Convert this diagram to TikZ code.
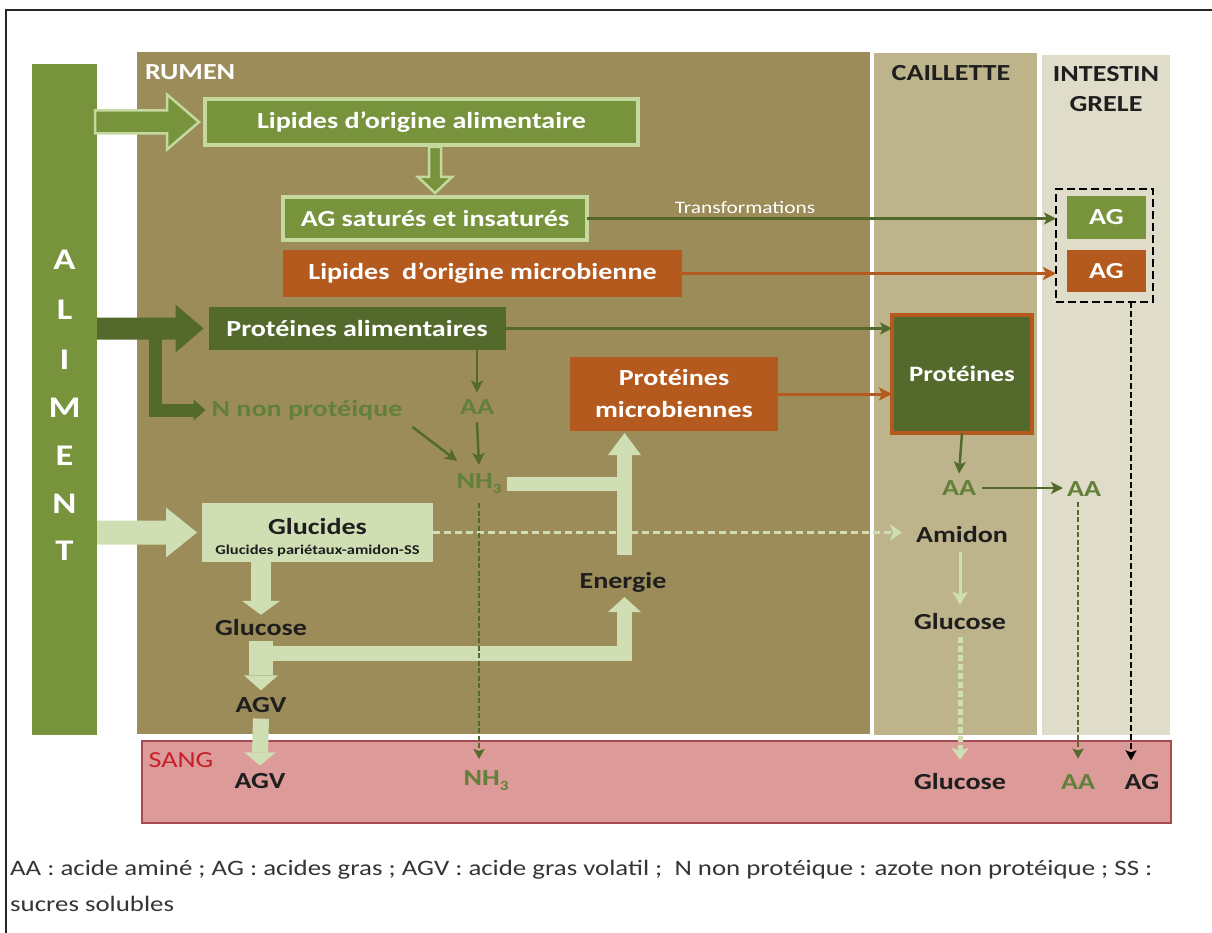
\documentclass[tikz,border=0pt]{standalone}
\usepackage{fontspec}
\setmainfont[FakeStretch=1.22]{Carlito}
\usetikzlibrary{calc,arrows.meta}

\definecolor{alimc}{HTML}{77933C}
\definecolor{rumenc}{HTML}{9C8C5A}
\definecolor{caillc}{HTML}{BEB48B}
\definecolor{intc}{HTML}{E0DCCA}
\definecolor{sangc}{HTML}{DC9A98}
\definecolor{sangb}{HTML}{A34B50}
\definecolor{olive}{HTML}{77933C}
\definecolor{lightg}{HTML}{D0DFB3}
\definecolor{lightb}{HTML}{C5D89E}
\definecolor{dkg}{HTML}{546A2D}
\definecolor{rust}{HTML}{B55A1E}
\definecolor{gtext}{HTML}{62803A}
\definecolor{ink}{HTML}{1E1E1E}
\definecolor{sangred}{HTML}{C8202A}

\newcommand\ftbox{\bfseries\fontsize{23}{32}\selectfont}
\newcommand\ftcail{\bfseries\fontsize{22}{26}\selectfont}
\newcommand\ftlet{\bfseries\fontsize{30}{30}\selectfont}
\newcommand\ftsmall{\bfseries\fontsize{13.5}{15}\selectfont}
\newcommand\fttrans{\fontsize{17.5}{20}\selectfont}
\newcommand\ftleg{\fontsize{22}{24}\selectfont}
\newcommand\ftsang{\fontsize{23}{26}\selectfont}
\newcommand\subidx[1]{\raisebox{-0.22em}{\fontsize{14}{14}\selectfont #1}}

% horizontal block arrow: style, start, tip, body half-height, head half-height, head length
\newcommand\harrow[6]{%
  \path[#1] ($(#2)+(0,-#4)$) -- ($(#3)+(-#6,-#4)$) -- ($(#3)+(-#6,-#5)$) -- (#3)
    -- ($(#3)+(-#6,#5)$) -- ($(#3)+(-#6,#4)$) -- ($(#2)+(0,#4)$) -- cycle;}
% downward block arrow: style, start, tip, body half-width, head half-width, head length
\newcommand\varrow[6]{%
  \path[#1] ($(#2)+(-#4,0)$) -- ($(#3)+(-#4,-#6)$) -- ($(#3)+(-#5,-#6)$) -- (#3)
    -- ($(#3)+(#5,-#6)$) -- ($(#3)+(#4,-#6)$) -- ($(#2)+(#4,0)$) -- cycle;}
% arrow heads: colour, tip, half-width, length
\newcommand\headD[4]{\fill[#1] (#2) -- ++(-#3,-#4) -- ++(2*#3,0) -- cycle;}
\newcommand\headU[4]{\fill[#1] (#2) -- ++(-#3,#4) -- ++(2*#3,0) -- cycle;}

\begin{document}
\begin{tikzpicture}[x=1pt,y=-1pt,
  region/.style={anchor=north west, inner sep=0, outer sep=0},
  box/.style={inner sep=0, outer sep=0, text=white, font=\ftbox, align=center},
  olivebox/.style={box, fill=olive, draw=lightb, line width=3.5},
  rustbox/.style={box, fill=rust},
  darkbox/.style={box, fill=dkg},
  lbl/.style={inner sep=2, outer sep=0, font=\ftbox, text=ink},
  glbl/.style={lbl, text=gtext},
  hollow/.style={fill=olive, draw=lightb, line width=2.5, line join=miter},
  tarrow/.style={draw=dkg, line width=2.5, -{Stealth[length=12pt,width=12pt,inset=3pt]}},
  rarrow/.style={draw=rust, line width=3, -{Stealth[length=13pt,width=13pt,inset=3pt]}},
  gdash/.style={draw=dkg, line width=2.5, dash pattern=on 5pt off 2.5pt, -{Stealth[length=10pt,width=11pt,inset=2pt]}},
  kdash/.style={draw=black, line width=2.5, dash pattern=on 6pt off 3pt, -{Stealth[length=10pt,width=11pt,inset=2pt]}},
  ldash/.style={draw=lightg, line width=3.5, dash pattern=on 7pt off 4pt, -{Stealth[length=12pt,width=16pt,inset=3pt]}},
  ldashb/.style={draw=lightg, line width=5, dash pattern=on 6pt off 3pt, -{Stealth[length=12pt,width=17pt,inset=3pt]}},
  lthin/.style={draw=lightg, line width=3, -{Stealth[length=13pt,width=15pt,inset=3pt]}},
]
\useasboundingbox (0,0) rectangle (1212,933);
\fill[white] (0,0) rectangle (1212,933);
\draw[line width=1.5, black!85] (6,933) -- (6,10) -- (1212,10);

% compartments
\node[region, fill=alimc, minimum width=65, minimum height=671] (aliment) at (32,64) {};
\node[region, fill=rumenc, minimum width=733, minimum height=682] (rumen) at (137,52) {};
\node[region, fill=caillc, minimum width=163, minimum height=682] (caillette) at (874,53) {};
\node[region, fill=intc, minimum width=128, minimum height=680] (intestin) at (1042,55) {};
\node[region, fill=sangc, draw=sangb, line width=1.2, minimum width=1029, minimum height=82] (sang) at (142,741) {};

% boxes
\node[olivebox, minimum width=433, minimum height=46] (lipal) at (421.5,122) {Lipides d’origine alimentaire};
\node[olivebox, minimum width=304, minimum height=43] (agsat) at (435,218.5) {AG saturés et insaturés};
\node[rustbox, minimum width=399, minimum height=47] (lipmic) at (482.5,273.5) {Lipides~ d’origine microbienne};
\node[darkbox, minimum width=297, minimum height=43] (protal) at (357,328.5) {Protéines alimentaires};
\node[rustbox, minimum width=208, minimum height=74] (protmic) at (674,394) {Protéines\\microbiennes};
\node[box, fill=lightg, minimum width=231, minimum height=59] (glucides) at (317.5,532.5) {};
\node[darkbox, draw=rust, line width=3.5, font=\ftcail, minimum width=140, minimum height=118] (protcail) at (962,374) {Protéines};
\node[draw=black, line width=2.5, dash pattern=on 8pt off 4pt, inner sep=0, outer sep=0, minimum width=97, minimum height=113] (agbox) at (1104.5,245.5) {};
\node[box, fill=olive, minimum width=79, minimum height=43] (ag1) at (1106.5,217.5) {AG};
\node[rustbox, minimum width=79, minimum height=42] (ag2) at (1106.5,271) {AG};

% compartment titles
\node[lbl, text=white, anchor=west] (rumenl) at (143,72) {RUMEN};
\node[lbl] (caill) at (951,73) {CAILLETTE};
\node[lbl, align=center, font=\bfseries\fontsize{23}{30}\selectfont] (intl) at (1106,89) {INTESTIN\\GRELE};
\node[lbl, text=sangred, font=\ftsang] (sangl) at (181,760) {SANG};
\foreach \ch/\yy [count=\i] in {A/260,L/310,I/360,M/408,E/456,N/504,T/551}
  \node[lbl, font=\ftlet, text=white] (alim\i) at (64.5,\yy) {\ch};

% labels
\node[lbl, text=white, font=\fttrans] (trans) at (745,208) {Transformations};
\node[glbl] (aar) at (477,407) {AA};
\node[glbl] (nh3) at (479,484) {NH\subidx{3}};
\node[glbl] (nnp) at (307,410) {N non protéique};
\node[lbl] (glt) at (317.5,527) {Glucides};
\node[lbl, font=\ftsmall] (gls) at (317.5,551) {Glucides pariétaux-amidon-SS};
\node[lbl] (glur) at (261,628) {Glucose};
\node[lbl] (agvr) at (261,705) {AGV};
\node[lbl] (energie) at (623,582) {Energie};
\node[glbl] (aac) at (959,488) {AA};
\node[glbl] (aai) at (1084,489) {AA};
\node[lbl] (amidon) at (962,535) {Amidon};
\node[lbl] (gluc) at (960,622) {Glucose};
\node[lbl] (agvs) at (260,781) {AGV};
\node[glbl] (nh3s) at (486,781) {NH\subidx{3}};
\node[lbl] (glus) at (960,782) {Glucose};
\node[glbl] (aas) at (1078,782) {AA};
\node[lbl] (ags) at (1142,782) {AG};

% legend
\node[anchor=west, inner sep=0, font=\ftleg, text=ink!90] (leg1) at (10,870)
  {AA : acide aminé ; AG : acides gras ; AGV : acide gras volatil ;~ N non protéique : azote non protéique ; SS :};
\node[anchor=west, inner sep=0, font=\ftleg, text=ink!90] (leg2) at (10,904) {sucres solubles};

% entry arrows from the feed column
\coordinate (lipS) at ($(aliment.east |- lipal.west)+(-2,0)$);
\coordinate (lipT) at ($(lipal.west)+(-6,0)$);
\harrow{hollow}{lipS}{lipT}{11.5}{27.5}{32}
\coordinate (palS) at (aliment.east |- protal.west);
\coordinate (palT) at ($(protal.west)+(-5,0)$);
\draw[dkg, line width=13, line join=miter] ($(palS)+(58,0)$) |- ($(nnp.west)+(-14,0)$);
\fill[dkg] ($(nnp.west)+(-4,0)$) -- ++(-12,-10.5) -- ++(0,21) -- cycle;
\harrow{fill=dkg}{palS}{palT}{11}{24}{28}
\coordinate (gluS) at (aliment.east |- glucides.west);
\coordinate (gluT) at ($(glucides.west)+(-5,0)$);
\harrow{fill=lightg}{gluS}{gluT}{12}{25}{31}

% lipids: hollow arrow down
\coordinate (ldS) at ($(agsat.north |- lipal.south)+(0,2)$);
\coordinate (ldT) at ($(agsat.north)+(0,-4)$);
\varrow{hollow}{ldS}{ldT}{6}{17}{16}

% carbohydrate flow in the rumen
\coordinate (g1T) at ($(glur.north)+(0,-3)$);
\draw[lightg, line width=20] (glur.north |- glucides.south) -- ($(g1T)+(0,-14)$);
\headD{lightg}{g1T}{19}{14}
\coordinate (g2T) at ($(agvr.north)+(0,-5)$);
\draw[lightg, line width=24] ($(glur.south)+(0,3)$) -- ($(g2T)+(0,-15)$);
\headD{lightg}{g2T}{17}{15}
\coordinate (enT) at ($(energie.south)+(1.5,3)$);
\draw[lightg, line width=15, line join=miter] ($(glur.south)+(0,15.5)$) -- ($(enT |- glur.south)+(0,15.5)$) -- ($(enT)+(0,15)$);
\headU{lightg}{enT}{16.5}{15}
\coordinate (g3T) at ($(agvs.north)+(0,-6)$);
\draw[lightg, line width=16] ($(agvr.south)+(0,4)$) -- ($(g3T)+(0,-13)$);
\headD{lightg}{g3T}{16}{13}

% nitrogen to microbial proteins
\coordinate (pmT) at ($(enT |- protmic.south)+(0,2)$);
\draw[lightg, line width=14] ($(nh3.east)+(4,0)$) -- ($(enT |- nh3.east)+(7.5,0)$);
\draw[lightg, line width=15] ($(energie.north)+(1.5,-15)$) -- ($(pmT)+(0,22)$);
\headU{lightg}{pmT}{16.5}{22}

% light dashed and thin connectors
\draw[ldash] (glucides.east) -- ($(glucides.east -| amidon.west)+(-12,0)$);
\draw[lthin] ($(gluc.north |- amidon.south)+(0,7)$) -- ($(gluc.north)+(0,-7)$);
\draw[ldashb] ($(gluc.south)+(0,5)$) -- ($(glus.north)+(0,-12)$);

% fatty acids
\draw[tarrow] (agsat.east) -- (agsat.east -| agbox.west);
\draw[rarrow] (lipmic.east) -- (lipmic.east -| agbox.west);
\coordinate (agx) at ($(ags.north)+(-11,0)$);
\draw[kdash] (agx |- agbox.south) -- ($(agx)+(0,-12)$);

% proteins
\draw[tarrow] (protal.east) -- (protal.east -| protcail.west);
\draw[rarrow] (protmic.east) -- (protmic.east -| protcail.west);
\draw[tarrow] (protal.south -| aar.north) -- ($(aar.north)+(0,-5)$);
\draw[tarrow] ($(aar.south)+(0,6)$) -- ($(nh3.north)+(0,-7)$);
\draw[tarrow] ($(nnp.south east)+(8,5)$) -- ($(nh3.north west)+(2.5,-11)$);
\draw[gdash] ($(nh3.south)+(0,7)$) -- ($(nh3.south |- nh3s.north)+(0,-10)$);
\draw[tarrow] (protcail.south) -- ($(aac.north)+(0,-5)$);
\draw[tarrow] ($(aac.east)+(4,0)$) -- ($(aac.east -| aai.west)+(-2,0)$);
\draw[gdash] ($(aas.north |- aai.south)+(0,4)$) -- ($(aas.north)+(0,-14)$);
\end{tikzpicture}
\end{document}
